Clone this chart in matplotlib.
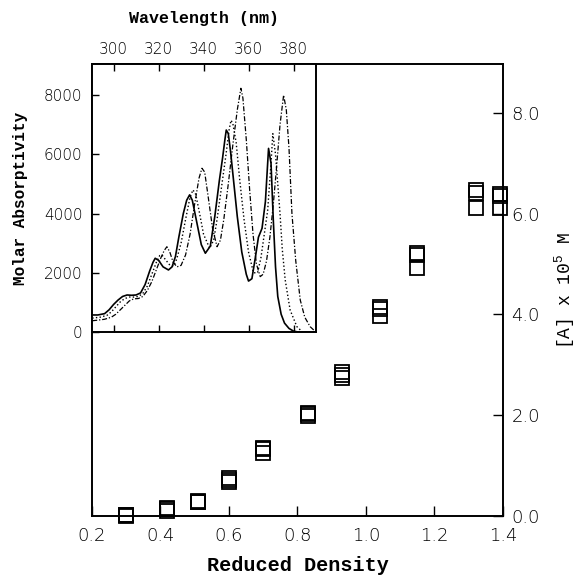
import matplotlib
matplotlib.use('Agg')
import matplotlib.pyplot as plt

plt.rcParams['mathtext.fontset'] = 'custom'
plt.rcParams['mathtext.rm'] = 'Liberation Mono'

# main panel: concentration vs reduced density (three runs per density)
density = [0.30, 0.42, 0.51, 0.60, 0.70, 0.83, 0.93, 1.04, 1.15, 1.32, 1.39]
conc_1 = [0.00, 0.10, 0.28, 0.68, 1.26, 1.99, 2.73, 3.96, 4.93, 6.12, 6.12]
conc_2 = [0.01, 0.13, 0.28, 0.72, 1.32, 2.02, 2.80, 4.10, 5.17, 6.41, 6.35]
conc_3 = [0.02, 0.15, 0.29, 0.75, 1.35, 2.04, 2.85, 4.15, 5.22, 6.46, 6.40]

dens_ticks = [0.2, 0.4, 0.6, 0.8, 1.0, 1.2, 1.4]
conc_ticks = [0.0, 2.0, 4.0, 6.0, 8.0]

# inset: absorption spectra
wl_solid = [290.5, 293, 296, 298, 300, 302, 304, 306, 308, 310, 312, 314, 316,
            317.5, 318.5, 320, 322, 324.4, 326, 327.5, 329, 331, 332.5, 333.8,
            335, 337, 339, 340.8, 343, 345, 347, 348.5, 349.5, 350.1, 351, 352,
            353.5, 355, 357, 359, 360, 361.5, 363, 364.4, 366, 367.5, 368.9,
            370, 371, 372, 373, 374.5, 376, 378, 380, 382, 390]
abs_solid = [575, 575, 620, 750, 930, 1080, 1200, 1250, 1240, 1250, 1320, 1600,
             2050, 2350, 2490, 2420, 2200, 2095, 2200, 2550, 3200, 4000, 4450,
             4630, 4450, 3700, 2950, 2660, 2900, 3900, 5100, 5900, 6500, 6820,
             6700, 6100, 5000, 3900, 2700, 1950, 1720, 1800, 2500, 3200, 3500,
             4400, 6200, 5700, 3800, 2200, 1200, 600, 300, 120, 30, 0, 0]

wl_dot = [290.5, 294, 297, 299, 301, 303, 305, 307, 309, 311, 313, 315, 317,
          319, 320.5, 321.5, 323, 325, 326.7, 328, 330, 332, 334, 335.3, 336.5,
          338, 340, 342.7, 344.5, 346, 348, 350, 351.3, 352.2, 353, 354.5, 356,
          358, 360, 362.2, 364, 365.5, 367, 368.5, 370, 370.8, 372, 373, 374,
          375, 376.3, 378.5, 381.5, 384, 390]
abs_dot = [470, 500, 560, 680, 850, 1020, 1130, 1180, 1180, 1200, 1300, 1550,
           1950, 2350, 2580, 2600, 2450, 2260, 2230, 2450, 3000, 3800, 4550,
           4800, 4650, 4100, 3300, 2830, 3100, 3800, 4900, 6000, 6800, 7150,
           7050, 6400, 5200, 3800, 2700, 2000, 2000, 2500, 3300, 4100, 5700,
           6700, 6000, 5000, 4000, 2800, 1760, 740, 180, 0, 0]

wl_dash = [290.5, 293, 296, 299, 301, 303, 305, 307, 309, 311, 313, 315, 317,
           319, 321, 322.5, 323.7, 325, 326.5, 328.2, 330, 332, 334, 336, 338,
           339.3, 340.5, 342, 344, 346, 347.5, 349, 351, 353, 355, 356.6, 357.5,
           359, 360.5, 362, 363.5, 365.2, 366.5, 368, 369.5, 371, 372.5, 374,
           375.6, 376.8, 378, 379.3, 381, 383, 385, 387.4, 389.5]
abs_dash = [380, 400, 430, 500, 600, 750, 900, 1050, 1120, 1130, 1200, 1400,
            1700, 2100, 2500, 2750, 2880, 2700, 2350, 2200, 2250, 2600, 3300,
            4300, 5200, 5530, 5400, 4600, 3500, 2880, 3100, 3800, 5000, 6300,
            7500, 8230, 7900, 6500, 4800, 3300, 2300, 1870, 1950, 2400, 3200,
            4300, 5600, 7000, 8000, 7500, 6200, 4000, 2400, 1080, 500, 180, 30]

wl_ticks = [300, 320, 340, 360, 380]
eps_ticks = [0, 2000, 4000, 6000, 8000]

mono = 'Liberation Mono'
tickfont = {'family': 'DejaVu Sans', 'weight': 'light'}

fig = plt.figure(figsize=(5.79, 5.79), dpi=100)

ax = fig.add_axes([92/579, 63/579, 411/579, 452/579])
for c in (conc_1, conc_2, conc_3):
    ax.plot(density, c, 's', mfc='none', mec='black', ms=9.5, mew=1.3, clip_on=False)
ax.set_xlim(0.2, 1.4)
ax.set_ylim(0, 8.97)
ax.yaxis.tick_right()
ax.yaxis.set_label_position('right')
ax.tick_params(direction='in', length=7, width=1)
ax.tick_params(axis='x', top=False, pad=8)
ax.tick_params(axis='y', left=False, right=True, pad=6)
ax.set_xticks(dens_ticks)
ax.set_xticklabels(['%.1f' % t for t in dens_ticks], fontsize=13, **tickfont)
ax.set_yticks(conc_ticks)
ax.set_yticklabels(['%.1f' % t for t in conc_ticks], fontsize=13, **tickfont)
for s in ax.spines.values():
    s.set_linewidth(1.4)
ax.set_xlabel('Reduced Density', family=mono, weight='bold', fontsize=14.5, labelpad=8)
ax.set_ylabel('[A] x 10$^{\\mathrm{5}}$ M', family=mono, fontsize=13, labelpad=9)

ins = fig.add_axes([92/579, 247/579, 224/579, 268/579])
ins.plot(wl_solid, abs_solid, '-', color='black', lw=1.2)
ins.plot(wl_dot, abs_dot, ':', color='black', lw=1.0)
ins.plot(wl_dash, abs_dash, color='black', lw=0.9, dashes=(4, 1.5, 1, 1.5))
ins.set_xlim(290.4, 390)
ins.set_ylim(0, 9050)
ins.xaxis.tick_top()
ins.xaxis.set_label_position('top')
ins.tick_params(direction='in', length=5, width=1)
ins.tick_params(axis='x', top=True, bottom=True, labeltop=True, labelbottom=False, pad=5)
ins.tick_params(axis='y', left=True, right=False, pad=7)
ins.set_xticks(wl_ticks)
ins.set_xticklabels([str(t) for t in wl_ticks], fontsize=11, **tickfont)
ins.set_yticks(eps_ticks)
ins.set_yticklabels([str(t) for t in eps_ticks], fontsize=11, **tickfont)
for s in ins.spines.values():
    s.set_linewidth(1.4)
ins.set_xlabel('Wavelength (nm)', family=mono, weight='bold', fontsize=12, labelpad=14)
ins.set_ylabel('Molar Absorptivity', family=mono, weight='bold', fontsize=11.5, labelpad=11)

fig.savefig('out.png', dpi=100)
